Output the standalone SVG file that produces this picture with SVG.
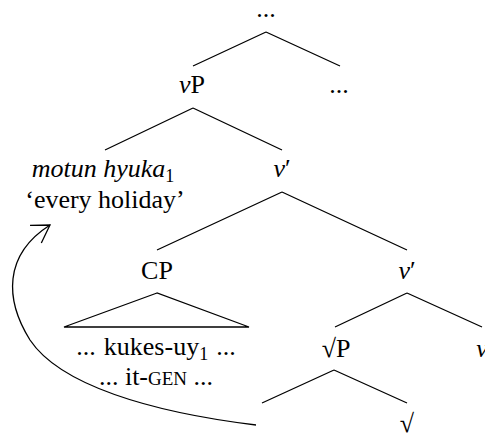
<svg xmlns="http://www.w3.org/2000/svg" width="485" height="438" viewBox="0 0 485 438">
<style>
text{font-family:"Liberation Serif","Times New Roman",serif;font-size:26px;fill:#000;text-anchor:middle}
.it{font-style:italic}
.sub{font-size:18px}
.sc{font-size:19px}
.edge{stroke:#000;stroke-width:1.3;fill:none}
</style>
<defs>
<marker id="arr" markerUnits="userSpaceOnUse" orient="auto" overflow="visible" refX="0" refY="0">
<path d="M-17,-10.5 L0,0 L-17,10.5" fill="none" stroke="#000" stroke-width="1.3"/>
</marker>
</defs>
<g id="connectors">
<path class="edge" d="M266,32 L193,66 M266,32 L340,66"/>
<path class="edge" d="M193,108 L105,150 M193,108 L282,150"/>
<path class="edge" d="M282,192 L157,250 M282,192 L407,250"/>
<path class="edge" d="M157,293 L64,327 L249,327 Z"/>
<path class="edge" d="M407,293 L335,327 M407,293 L482,327"/>
<path class="edge" d="M334,370 L262,403 M334,370 L407,403"/>
<path class="edge" marker-end="url(#arr)" d="M256,425 C150,412 60,385 30,340 C5,300 3,255 50,225"/>
</g>
<g id="n-top"><text x="266" y="17">...</text></g>
<g id="n-vP"><text x="192" y="93"><tspan class="it">v</tspan>P</text></g>
<g id="n-dots"><text x="339" y="93">...</text></g>
<g id="n-motun"><text x="103" y="177"><tspan class="it">motun hyuka</tspan><tspan class="sub" dy="5">1</tspan></text>
<text x="105" y="208">‘every holiday’</text></g>
<g id="n-vbar1"><text x="282" y="177"><tspan class="it">v</tspan>′</text></g>
<g id="n-CP"><text x="157" y="279">CP</text>
<text x="156" y="355" word-spacing="1.5">... kukes-uy<tspan class="sub" dy="5">1</tspan><tspan dy="-5"> ...</tspan></text>
<text x="156" y="385">... it-<tspan class="sc">GEN</tspan> ...</text></g>
<g id="n-vbar2"><text x="407" y="279"><tspan class="it">v</tspan>′</text></g>
<g id="n-rootP"><text x="336" y="357">√P</text></g>
<g id="n-v"><text x="482" y="357" class="it">v</text></g>
<g id="n-root"><text x="407" y="432">√</text></g>
</svg>
